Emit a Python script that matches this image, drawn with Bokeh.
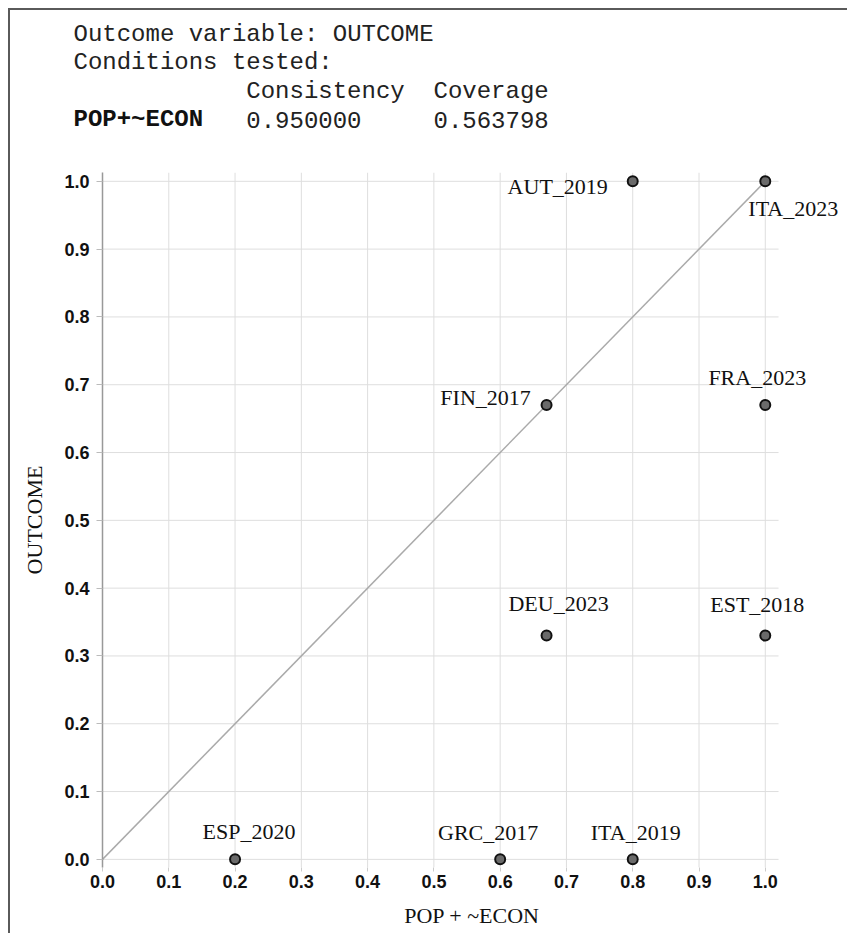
from bokeh.plotting import figure
from bokeh.models import Range1d, FixedTicker, NumeralTickFormatter, ColumnDataSource
from bokeh.core.properties import value
from bokeh.embed import file_html
from bokeh.resources import INLINE

# ---------------- data ----------------
outcome_name = "OUTCOME"
condition_name = "POP+~ECON"
x_axis_title = "POP + ~ECON"
consistency = 0.950000
coverage = 0.563798

cases = ["AUT_2019", "ITA_2023", "FIN_2017", "FRA_2023", "DEU_2023",
         "EST_2018", "ESP_2020", "GRC_2017", "ITA_2019"]
x_vals = [0.80, 1.00, 0.67, 1.00, 0.67, 1.00, 0.20, 0.60, 0.80]
y_vals = [1.00, 1.00, 0.67, 0.67, 0.33, 0.33, 0.00, 0.00, 0.00]
diag_x = [0.0, 1.0]
diag_y = [0.0, 1.0]
ticks = [0.0, 0.1, 0.2, 0.3, 0.4, 0.5, 0.6, 0.7, 0.8, 0.9, 1.0]

# label placement (screen px offsets from the point)
label_dx = [-75, 28, -61, -8, 12, -8, 14, -12, 3]
label_dy = [5, 27, -8, -28, -32, -31, -28, -27, -27]

# axis extents
X_START, X_GRID_END, X_VIEW_END = 0.0, 1.02, 1.115
Y_START, Y_END = -0.012, 1.013

MAIN_W = 831
HEAD_W = 839
H_HEAD = 138
LEFT_BORDER = 92
frame_line = "2px solid #5a5a5a"

# ---------------- header (own root, so its frame is not aligned to the plot) ----------------
head = figure(width=HEAD_W, height=H_HEAD, x_range=Range1d(0, HEAD_W), y_range=Range1d(H_HEAD, 0),
              output_backend="svg", toolbar_location=None,
              x_axis_location=None, y_axis_location=None,
              min_border=0, min_border_left=0, min_border_right=0,
              min_border_top=0, min_border_bottom=0,
              styles={"margin-left": "8px", "margin-top": "8px",
                      "border-left": frame_line, "border-top": frame_line})
head.grid.visible = False
head.outline_line_color = None

mono = value("Liberation Mono")
char_w = 14.4
x0 = 63
rows_y = [24, 52, 81, 109]
plain_text = [f"Outcome variable: {outcome_name}", "Conditions tested:",
              "Consistency", "Coverage", f"{consistency:.6f}", f"{coverage:.6f}"]
plain_col = [0, 0, 12, 25, 12, 25]
plain_row = [0, 1, 2, 2, 3, 3]
head.text(x=[x0 + c * char_w for c in plain_col], y=[rows_y[r] for r in plain_row],
          text=plain_text, text_font=mono, text_font_size="24px",
          text_baseline="middle", text_align="left", text_color="#222222")
head.text(x=[x0], y=[rows_y[3]], text=[condition_name], text_font=mono,
          text_font_size="24px", text_font_style="bold", text_baseline="middle",
          text_align="left", text_color="#111111")

# ---------------- main plot ----------------
p = figure(width=MAIN_W, height=787, x_range=Range1d(X_START, X_VIEW_END),
           y_range=Range1d(Y_START, Y_END),
           output_backend="svg", toolbar_location=None,
           min_border_left=LEFT_BORDER, min_border_right=0, min_border_top=26, min_border_bottom=66,
           styles={"margin-left": "8px", "border-left": frame_line})
p.outline_line_color = None
p.background_fill_color = "white"
p.border_fill_color = "white"
p.grid.visible = False

for ax in (p.xaxis[0], p.yaxis[0]):
    ax.ticker = FixedTicker(ticks=ticks)
    ax.formatter = NumeralTickFormatter(format="0.0")
    ax.major_label_text_font = "Liberation Sans"
    ax.major_label_text_font_style = "bold"
    ax.major_label_text_font_size = "18px"
    ax.major_label_text_color = "#111111"
    ax.minor_tick_line_color = None
    ax.axis_label_text_font = "Liberation Serif"
    ax.axis_label_text_font_style = "normal"
    ax.axis_label_text_font_size = "22px"
    ax.axis_label_text_color = "#111111"
    ax.major_tick_in = 0

p.xaxis.axis_line_color = None
p.xaxis.major_tick_out = 4
p.xaxis.major_tick_line_color = "#cccccc"
p.xaxis.major_label_standoff = 3
p.xaxis.axis_label = x_axis_title
p.xaxis.axis_label_standoff = 12

p.yaxis.axis_line_color = "#999999"
p.yaxis.axis_line_width = 1.5
p.yaxis.major_tick_out = 6
p.yaxis.major_tick_line_color = "#bbbbbb"
p.yaxis.major_label_standoff = 7
p.yaxis.axis_label = outcome_name
p.yaxis.axis_label_standoff = 14

# grid drawn by hand so it stops at the data extent (labels may run past it)
grid_color = "#dedede"
p.segment(x0=[X_START] * len(ticks), x1=[X_GRID_END] * len(ticks), y0=ticks, y1=ticks,
          line_color=grid_color, line_width=1)
p.segment(x0=ticks, x1=ticks, y0=[Y_START] * len(ticks), y1=[Y_END] * len(ticks),
          line_color=grid_color, line_width=1)

p.line(diag_x, diag_y, line_color="#aaaaaa", line_width=1.5)

src = ColumnDataSource(dict(x=x_vals, y=y_vals, case=cases, dx=label_dx, dy=label_dy))
p.scatter("x", "y", source=src, size=10, fill_color="#6a6a6a", line_color="#111111", line_width=2)
p.text("x", "y", text="case", source=src, x_offset="dx", y_offset="dy",
       text_font=value("Liberation Serif"), text_font_size="22px",
       text_align="center", text_baseline="middle", text_color="#111111")

open("out.html", "w").write(file_html([head, p], INLINE))
